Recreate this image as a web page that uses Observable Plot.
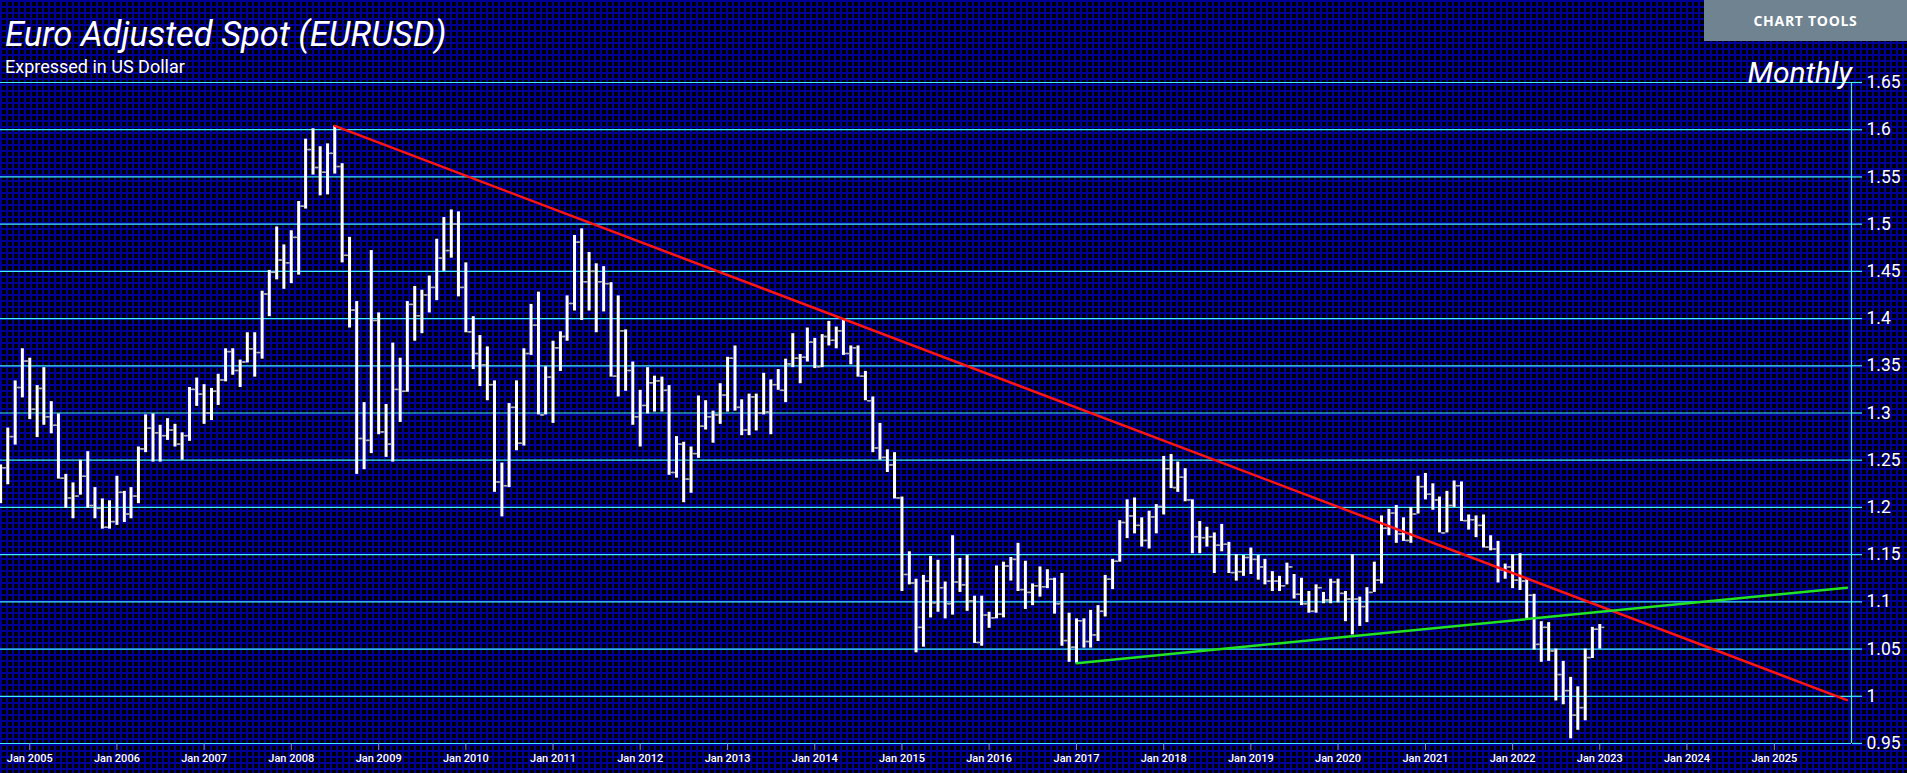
<!DOCTYPE html>
<html><head><meta charset="utf-8">
<script src="https://cdn.jsdelivr.net/npm/d3@7"></script>
<script src="https://cdn.jsdelivr.net/npm/@observablehq/plot@0.6"></script>
<style>
html,body{margin:0;padding:0;background:#000;overflow:hidden;}
#wrap{position:relative;width:1907px;height:773px;overflow:hidden;background-color:#000;
 background-image:linear-gradient(to right,#000096 2px,transparent 2px),linear-gradient(to bottom,#000096 2px,transparent 2px);
 background-size:6px 6px;}
#chart{position:absolute;left:0;top:0;}
.t{position:absolute;color:#fff;white-space:nowrap;line-height:1;font-family:Roboto,sans-serif;}
#title{left:5px;top:17px;font-size:34.5px;font-style:italic;}
#sub{left:5px;top:58px;font-size:18px;}
#monthly{right:55px;top:58px;font-size:30px;font-style:italic;}
#tools{position:absolute;left:1704px;top:0;width:203px;height:41px;background:#6f8391;color:#fff;
 font:700 14px "Open Sans",sans-serif;letter-spacing:0.7px;display:flex;align-items:center;justify-content:center;}
</style></head>
<body>
<div id="wrap">
 <div id="chart"></div>
 <div class="t" id="title">Euro Adjusted Spot (EURUSD)</div>
 <div class="t" id="sub">Expressed in US Dollar</div>
 <div class="t" id="monthly">Monthly</div>
 <div id="tools">CHART TOOLS</div>
</div>
<script>
// Monthly bars, Sep 2004 .. Jan 2023
const firstMonth = "2004-09-01";
const high = [
 1.245, 1.284, 1.334, 1.368,
 1.358, 1.329, 1.348, 1.312, 1.299, 1.235, 1.226, 1.250, 1.259, 1.221, 1.209, 1.207,
 1.233, 1.217, 1.221, 1.264, 1.298, 1.299, 1.287, 1.294, 1.288, 1.279, 1.327, 1.337,
 1.330, 1.326, 1.341, 1.368, 1.368, 1.356, 1.385, 1.385, 1.429, 1.451, 1.497, 1.478,
 1.493, 1.524, 1.590, 1.601, 1.582, 1.585, 1.604, 1.564, 1.486, 1.418, 1.311, 1.472,
 1.406, 1.309, 1.374, 1.358, 1.418, 1.434, 1.430, 1.445, 1.484, 1.507, 1.515, 1.513,
 1.459, 1.402, 1.382, 1.370, 1.334, 1.247, 1.310, 1.334, 1.368, 1.415, 1.428, 1.349,
 1.376, 1.386, 1.424, 1.488, 1.495, 1.470, 1.458, 1.455, 1.438, 1.424, 1.388, 1.354,
 1.324, 1.348, 1.339, 1.338, 1.329, 1.275, 1.269, 1.264, 1.318, 1.313, 1.302, 1.331,
 1.359, 1.371, 1.314, 1.320, 1.320, 1.342, 1.335, 1.346, 1.357, 1.384, 1.362, 1.390,
 1.379, 1.383, 1.397, 1.391, 1.400, 1.371, 1.371, 1.344, 1.317, 1.289, 1.261, 1.258,
 1.211, 1.153, 1.124, 1.128, 1.148, 1.144, 1.121, 1.170, 1.146, 1.149, 1.106, 1.106,
 1.089, 1.138, 1.142, 1.147, 1.162, 1.143, 1.119, 1.137, 1.134, 1.125, 1.130, 1.088,
 1.082, 1.082, 1.091, 1.096, 1.128, 1.145, 1.186, 1.208, 1.210, 1.189, 1.196, 1.203,
 1.254, 1.256, 1.248, 1.241, 1.208, 1.185, 1.179, 1.173, 1.182, 1.163, 1.150, 1.149,
 1.157, 1.149, 1.145, 1.132, 1.127, 1.141, 1.129, 1.125, 1.111, 1.118, 1.110, 1.124,
 1.124, 1.111, 1.150, 1.105, 1.115, 1.142, 1.191, 1.198, 1.202, 1.189, 1.200, 1.233,
 1.236, 1.225, 1.211, 1.217, 1.228, 1.227, 1.192, 1.191, 1.192, 1.170, 1.164, 1.140,
 1.150, 1.151, 1.124, 1.108, 1.079, 1.078, 1.050, 1.037, 1.020, 1.010, 1.050, 1.073,
 1.076
];
const low = [
 1.204, 1.224, 1.266, 1.316,
 1.293, 1.274, 1.287, 1.278, 1.230, 1.199, 1.188, 1.213, 1.199, 1.188, 1.177, 1.177,
 1.181, 1.184, 1.188, 1.204, 1.258, 1.248, 1.248, 1.271, 1.264, 1.250, 1.270, 1.307,
 1.288, 1.292, 1.308, 1.333, 1.340, 1.327, 1.353, 1.338, 1.357, 1.402, 1.441, 1.431,
 1.437, 1.446, 1.516, 1.552, 1.530, 1.531, 1.553, 1.459, 1.390, 1.235, 1.240, 1.257,
 1.277, 1.253, 1.248, 1.290, 1.322, 1.376, 1.384, 1.406, 1.419, 1.450, 1.464, 1.423,
 1.385, 1.346, 1.328, 1.313, 1.216, 1.190, 1.221, 1.260, 1.265, 1.361, 1.298, 1.298,
 1.289, 1.344, 1.376, 1.408, 1.398, 1.408, 1.385, 1.407, 1.338, 1.317, 1.323, 1.287,
 1.264, 1.299, 1.301, 1.301, 1.234, 1.231, 1.205, 1.215, 1.252, 1.282, 1.268, 1.288,
 1.301, 1.302, 1.276, 1.276, 1.281, 1.298, 1.277, 1.324, 1.311, 1.348, 1.331, 1.354,
 1.347, 1.348, 1.371, 1.368, 1.361, 1.351, 1.338, 1.313, 1.258, 1.250, 1.237, 1.209,
 1.111, 1.118, 1.046, 1.052, 1.083, 1.089, 1.082, 1.086, 1.110, 1.090, 1.056, 1.053,
 1.072, 1.082, 1.083, 1.122, 1.111, 1.092, 1.096, 1.105, 1.114, 1.087, 1.053, 1.036,
 1.035, 1.051, 1.051, 1.058, 1.084, 1.113, 1.142, 1.167, 1.172, 1.158, 1.156, 1.172,
 1.192, 1.220, 1.216, 1.206, 1.151, 1.151, 1.158, 1.130, 1.153, 1.130, 1.122, 1.127,
 1.129, 1.123, 1.118, 1.111, 1.111, 1.118, 1.103, 1.096, 1.088, 1.088, 1.098, 1.098,
 1.099, 1.079, 1.065, 1.074, 1.078, 1.110, 1.119, 1.170, 1.162, 1.164, 1.162, 1.193,
 1.208, 1.197, 1.173, 1.173, 1.200, 1.185, 1.176, 1.168, 1.157, 1.154, 1.120, 1.124,
 1.114, 1.112, 1.081, 1.049, 1.036, 1.037, 0.995, 0.991, 0.955, 0.964, 0.974, 1.040,
 1.050
];
const close = [
 1.242, 1.275, 1.327, 1.355,
 1.304, 1.326, 1.296, 1.287, 1.231, 1.210, 1.212, 1.233, 1.202, 1.199, 1.179, 1.185,
 1.216, 1.193, 1.212, 1.262, 1.284, 1.279, 1.276, 1.282, 1.267, 1.276, 1.325, 1.320,
 1.300, 1.323, 1.335, 1.365, 1.345, 1.354, 1.368, 1.364, 1.426, 1.449, 1.462, 1.459,
 1.486, 1.519, 1.579, 1.560, 1.555, 1.575, 1.561, 1.467, 1.409, 1.273, 1.271, 1.398,
 1.280, 1.267, 1.325, 1.323, 1.415, 1.403, 1.425, 1.433, 1.464, 1.472, 1.500, 1.433,
 1.386, 1.363, 1.351, 1.330, 1.227, 1.223, 1.306, 1.268, 1.363, 1.393, 1.298, 1.338,
 1.369, 1.381, 1.416, 1.481, 1.439, 1.450, 1.439, 1.437, 1.339, 1.387, 1.345, 1.296,
 1.308, 1.332, 1.334, 1.324, 1.237, 1.267, 1.230, 1.257, 1.286, 1.296, 1.298, 1.319,
 1.358, 1.306, 1.282, 1.317, 1.300, 1.301, 1.330, 1.324, 1.352, 1.358, 1.359, 1.375,
 1.349, 1.381, 1.377, 1.387, 1.363, 1.369, 1.339, 1.313, 1.263, 1.253, 1.245, 1.210,
 1.129, 1.120, 1.073, 1.122, 1.099, 1.115, 1.098, 1.121, 1.118, 1.101, 1.057, 1.086,
 1.083, 1.087, 1.138, 1.145, 1.113, 1.110, 1.117, 1.116, 1.124, 1.098, 1.059, 1.052,
 1.080, 1.058, 1.065, 1.090, 1.124, 1.143, 1.184, 1.191, 1.181, 1.165, 1.190, 1.201,
 1.241, 1.221, 1.232, 1.208, 1.169, 1.168, 1.169, 1.160, 1.161, 1.131, 1.132, 1.147,
 1.145, 1.137, 1.122, 1.122, 1.117, 1.137, 1.108, 1.098, 1.090, 1.115, 1.102, 1.121,
 1.109, 1.103, 1.103, 1.095, 1.110, 1.123, 1.178, 1.194, 1.172, 1.165, 1.193, 1.222,
 1.214, 1.208, 1.173, 1.202, 1.223, 1.186, 1.187, 1.181, 1.158, 1.156, 1.134, 1.137,
 1.123, 1.122, 1.107, 1.055, 1.073, 1.048, 1.023, 1.006, 0.980, 0.988, 1.041, 1.071,
 1.073
];
const firstOpen = 1.217;

// Trend lines (end points)
const redTrendDates = ["2008-07-01", "2025-11-01"];
const redTrendValues = [1.604, 0.996];
const greenTrendDates = ["2017-01-01", "2025-11-01"];
const greenTrendValues = [1.035, 1.115];

// Axes
const yTicks = [0.95, 1, 1.05, 1.1, 1.15, 1.2, 1.25, 1.3, 1.35, 1.4, 1.45, 1.5, 1.55, 1.6, 1.65];
const yTickLabels = ["0.95","1","1.05","1.1","1.15","1.2","1.25","1.3","1.35","1.4","1.45","1.5","1.55","1.6","1.65"];
const xTickLabels = ["Jan 2005","Jan 2006","Jan 2007","Jan 2008","Jan 2009","Jan 2010","Jan 2011","Jan 2012","Jan 2013","Jan 2014","Jan 2015","Jan 2016","Jan 2017","Jan 2018","Jan 2019","Jan 2020","Jan 2021","Jan 2022","Jan 2023","Jan 2024","Jan 2025"];
const xDomain = ["2004-08-31T12:00:00Z", "2025-11-20T00:00:00Z"];

const start = new Date(firstMonth + "T00:00:00Z");
const bars = high.map((h, i) => ({
  date: d3.utcMonth.offset(start, i),
  high: h, low: low[i], close: close[i],
  open: i === 0 ? firstOpen : close[i - 1]
}));
const redTrend = redTrendDates.map((d, i) => ({date: new Date(d + "T00:00:00Z"), value: redTrendValues[i]}));
const greenTrend = greenTrendDates.map((d, i) => ({date: new Date(d + "T00:00:00Z"), value: greenTrendValues[i]}));
const xTicks = xTickLabels.map(s => new Date(Date.UTC(+s.slice(4), 0, 1)));
const xLabelMap = new Map(xTicks.map((d, i) => [+d, xTickLabels[i]]));
const yLabelMap = new Map(yTicks.map((v, i) => [v, yTickLabels[i]]));

const openSym = {draw(ctx, size) { const r = Math.sqrt(size / Math.PI); ctx.moveTo(-r, 0); ctx.lineTo(-1.5, 0); }};
const closeSym = {draw(ctx, size) { const r = Math.sqrt(size / Math.PI); ctx.moveTo(1.5, 0); ctx.lineTo(r, 0); }};

const cyan = "#3eeefc";
const xEnd = new Date(xDomain[1]);

const chart = Plot.plot({
  width: 1907, height: 773,
  marginLeft: 0, marginRight: 56, marginTop: 82, marginBottom: 30,
  style: {background: "transparent", color: "#fff", fontFamily: "Roboto, sans-serif", overflow: "visible"},
  x: {type: "utc", domain: xDomain.map(d => new Date(d))},
  y: {domain: [0.95, 1.65]},
  marks: [
    Plot.ruleY(yTicks, {stroke: cyan, strokeWidth: 1.2}),
    Plot.ruleX([xEnd], {y1: 0.95, y2: 1.65, stroke: cyan, strokeWidth: 1.2}),
    Plot.axisY(yTicks, {anchor: "right", tickSize: 10, tickPadding: 5, stroke: cyan, strokeWidth: 1.2,
      fill: "#fff", fontSize: 17.5, tickFormat: v => yLabelMap.get(v), label: null}),
    Plot.axisX(xTicks, {anchor: "bottom", tickSize: 7, tickPadding: 4, stroke: "#8a8aa8",
      fill: "#fff", fontSize: 11, fontWeight: 500, tickFormat: d => xLabelMap.get(+d), label: null}),
    Plot.ruleX(bars, {x: "date", y1: "low", y2: "high", stroke: "#fff", strokeWidth: 3}),
    Plot.dot(bars, {x: "date", y: "open", symbol: openSym, r: 4.5, fill: "none", stroke: "#b4b4b4", strokeWidth: 1.5}),
    Plot.dot(bars, {x: "date", y: "close", symbol: closeSym, r: 4.5, fill: "none", stroke: "#b4b4b4", strokeWidth: 1.5}),
    Plot.line(redTrend, {x: "date", y: "value", stroke: "#ff1414", strokeWidth: 2.5}),
    Plot.line(greenTrend, {x: "date", y: "value", stroke: "#22e422", strokeWidth: 2.5})
  ]
});
document.getElementById("chart").appendChild(chart);
</script>
</body></html>
